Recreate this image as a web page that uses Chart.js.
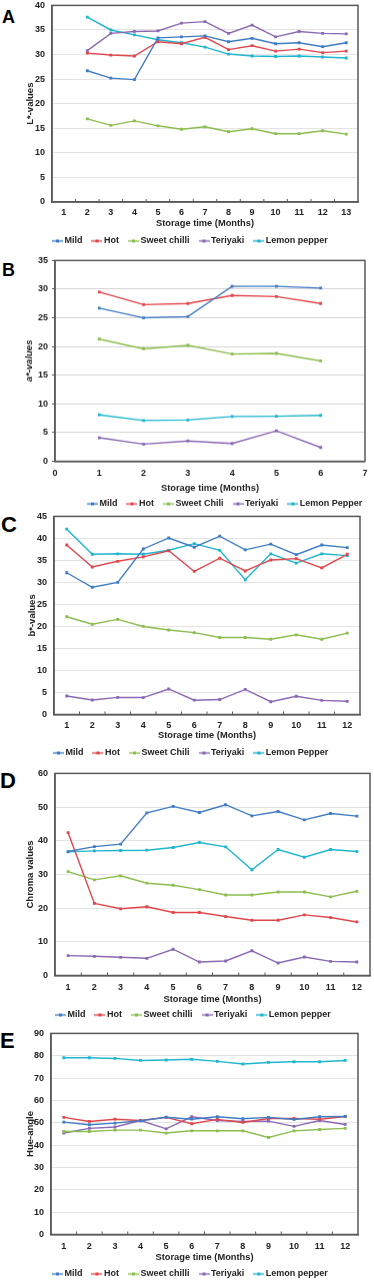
<!DOCTYPE html>
<html>
<head>
<meta charset="utf-8">
<script src="https://cdn.jsdelivr.net/npm/chart.js@4.4.0/dist/chart.umd.min.js"></script>
<style>
  html, body { margin: 0; padding: 0; background: #fff; width: 374px; height: 1282px; overflow: hidden; position: relative; }
  .panel { position: absolute; left: 0; width: 374px; }
  .letter { position: absolute; left: 2px; font-family: "Liberation Sans", Arial, sans-serif; font-weight: bold; color: #000; }
</style>
</head>
<body>
<div class="letter" style="top:8px;font-size:18px;line-height:18px">A</div>
<div class="letter" style="top:261px;font-size:18px;line-height:18px">B</div>
<div class="letter" style="top:514px;font-size:22px;line-height:22px;left:1px">C</div>
<div class="letter" style="top:770px;font-size:22px;line-height:22px;left:0px">D</div>
<div class="letter" style="top:1030px;font-size:22px;line-height:22px;left:0px">E</div>

<div class="panel" id="pA"><canvas id="cA"></canvas></div>
<div class="panel" id="pB"><canvas id="cB"></canvas></div>
<div class="panel" id="pC"><canvas id="cC"></canvas></div>
<div class="panel" id="pD"><canvas id="cD"></canvas></div>
<div class="panel" id="pE"><canvas id="cE"></canvas></div>

<script>
// ---------- Data ----------
const seriesNames = ['Mild', 'Hot', 'Sweet chilli', 'Teriyaki', 'Lemon pepper'];
const seriesNamesB = ['Mild', 'Hot', 'Sweet Chili', 'Teriyaki', 'Lemon Pepper'];
const seriesNamesC = ['Mild', 'Hot', 'Sweet Chili', 'Teriyaki', 'Lemon Pepper'];

// Panel A: L*-values, months 1..13 (data from month 2)
const monthsA = ['1','2','3','4','5','6','7','8','9','10','11','12','13'];
const lMild   = [null, 26.7, 25.2, 24.9, 33.4, 33.6, 33.8, 32.6, 33.3, 32.2, 32.4, 31.6, 32.4];
const lHot    = [null, 30.3, 29.9, 29.7, 32.6, 32.2, 33.5, 31.0, 31.8, 30.7, 31.1, 30.4, 30.7];
const lSweet  = [null, 16.9, 15.6, 16.5, 15.5, 14.8, 15.3, 14.3, 14.9, 13.9, 13.9, 14.5, 13.8];
const lTeri   = [null, 30.8, 34.3, 34.7, 34.8, 36.4, 36.7, 34.3, 36.0, 33.6, 34.7, 34.3, 34.2];
const lLemon  = [null, 37.6, 35.0, 34.0, 33.0, 32.4, 31.5, 30.1, 29.7, 29.6, 29.7, 29.5, 29.3];

// Panel B: a*-values, months 1..6 (linear axis 0..7)
const monthsB = [1, 2, 3, 4, 5, 6];
const aMild   = [26.7, 25.0, 25.2, 30.5, 30.5, 30.2];
const aHot    = [29.5, 27.3, 27.5, 28.9, 28.7, 27.5];
const aSweet  = [21.3, 19.6, 20.2, 18.7, 18.8, 17.5];
const aTeri   = [4.1, 3.0, 3.55, 3.1, 5.3, 2.4];
const aLemon  = [8.1, 7.1, 7.2, 7.8, 7.85, 8.0];

// Panel C: b*-values, months 1..12
const months12 = ['1','2','3','4','5','6','7','8','9','10','11','12'];
const bMild   = [32.2, 28.9, 30.0, 37.6, 40.1, 38.0, 40.5, 37.4, 38.7, 36.3, 38.5, 37.9];
const bHot    = [38.5, 33.5, 34.8, 35.8, 37.2, 32.5, 35.5, 32.6, 35.1, 35.4, 33.3, 36.4];
const bSweet  = [22.2, 20.5, 21.6, 20.0, 19.2, 18.6, 17.5, 17.5, 17.1, 18.1, 17.1, 18.5];
const bTeri   = [4.2, 3.3, 3.9, 3.85, 5.8, 3.25, 3.4, 5.7, 2.9, 4.15, 3.2, 3.0];
const bLemon  = [42.1, 36.4, 36.5, 36.4, 37.3, 38.8, 37.3, 30.6, 36.5, 34.4, 36.5, 36.1];

// Panel D: Chroma values
const cMild   = [36.8, 38.25, 39.0, 48.3, 50.2, 48.4, 50.7, 47.4, 48.7, 46.2, 48.1, 47.3];
const cHot    = [42.4, 21.4, 19.8, 20.4, 18.7, 18.7, 17.5, 16.4, 16.4, 18.0, 17.2, 15.9];
const cSweet  = [30.85, 28.4, 29.6, 27.4, 26.8, 25.5, 23.9, 23.9, 24.8, 24.8, 23.35, 25.0];
const cTeri   = [5.9, 5.7, 5.4, 5.1, 7.8, 4.0, 4.3, 7.35, 3.7, 5.5, 4.2, 4.0];
const cLemon  = [36.7, 37.0, 37.1, 37.2, 38.0, 39.5, 38.2, 31.4, 37.4, 35.1, 37.4, 36.8];

// Panel E: Hue-angle
const hMild   = [50.3, 49.1, 49.85, 50.9, 52.5, 51.6, 52.7, 51.8, 52.4, 51.5, 52.7, 52.8];
const hHot    = [52.4, 50.6, 51.6, 51.0, 52.4, 49.55, 51.5, 50.15, 51.9, 51.9, 51.6, 52.8];
const hSweet  = [46.1, 46.1, 46.7, 46.7, 45.4, 46.4, 46.4, 46.4, 43.4, 46.4, 47.0, 47.5];
const hTeri   = [45.4, 47.5, 48.1, 51.0, 47.3, 52.7, 51.0, 50.6, 50.75, 48.4, 51.0, 49.25];
const hLemon  = [79.1, 79.1, 78.8, 77.9, 78.1, 78.4, 77.5, 76.3, 77.0, 77.3, 77.3, 77.9];

// ---------- Styling ----------
const colors = ['#3f7cc4', '#e0474c', '#8cbd4f', '#8b68b3', '#1fb5cd'];
const FONT = '"Liberation Sans", Arial, sans-serif';
const frameColor = '#595959';
const LEG_PAD = 12;

// legend marker: short line with a small square dot
const legendMarkers = colors.map(c => {
  const cv = document.createElement('canvas');
  cv.width = 11; cv.height = 5;
  const g = cv.getContext('2d');
  g.strokeStyle = c; g.lineWidth = 1.4;
  g.beginPath(); g.moveTo(0, 2.5); g.lineTo(11, 2.5); g.stroke();
  g.fillStyle = c; g.fillRect(4, 1, 3, 3);
  return cv;
});

const framePlugin = {
  id: 'frame',
  afterLayout(chart, args, opts) {
    const lg = chart.legend;
    if (lg && opts.legendLeft !== undefined) {
      const h = lg.bottom - lg.top;
      lg.left = opts.legendLeft;
      lg.right = opts.legendLeft + 600;
      lg.top = opts.legendTop;
      lg.bottom = opts.legendTop + h;
    }
  },
  afterDraw(chart, args, opts) {
    const {ctx, chartArea: a} = chart;
    ctx.save();
    ctx.strokeStyle = frameColor;
    ctx.lineWidth = 1.5;
    ctx.strokeRect(a.left, a.top, a.right - a.left, a.bottom - a.top);
    if (opts.innerTicks) {
      const xs = chart.scales.x;
      const n = xs.ticks.length;
      ctx.lineWidth = 1;
      ctx.beginPath();
      for (let i = 1; i < n; i++) {
        const x = (xs.getPixelForTick(i - 1) + xs.getPixelForTick(i)) / 2;
        ctx.moveTo(x, a.bottom);
        ctx.lineTo(x, a.bottom - 3);
      }
      ctx.stroke();
    }
    ctx.restore();
  }
};

function legendLabels(chart) {
  const items = Chart.defaults.plugins.legend.labels.generateLabels(chart);
  return items.map((it, i) => Object.assign(it, {
    strokeStyle: colors[i], fillStyle: colors[i], lineWidth: 1.4, pointStyle: legendMarkers[i]
  }));
}

function makeDatasets(names, arrays, xs) {
  return names.map((n, i) => ({
    label: n,
    data: xs ? arrays[i].map((v, j) => ({x: xs[j], y: v})) : arrays[i],
    borderColor: colors[i],
    backgroundColor: colors[i],
    borderWidth: 1.4,
    pointStyle: 'rect',
    pointRadius: 2,
    pointBorderWidth: 0,
    tension: 0,
    spanGaps: false
  }));
}

function makeChart(cfg) {
  const panel = document.getElementById(cfg.panel);
  panel.style.top = cfg.top + 'px';
  panel.style.height = cfg.height + 'px';
  const common = {
    color: '#222', font: {family: FONT, size: 9, weight: 'bold'}, padding: cfg.xTickPad
  };
  const xTitle = { display: true, text: 'Storage time (Months)', color: '#222', font: {family: FONT, size: 9.3, weight: 'bold'}, padding: {top: 0, bottom: 0} };
  const xScale = cfg.linear ? {
    type: 'linear', min: 0, max: 7,
    ticks: Object.assign({ stepSize: 1 }, common),
    grid: { display: false, drawTicks: false },
    border: { display: true, color: frameColor, width: 1.5 },
    title: xTitle,
    afterFit(s) { s.height = cfg.xAxisH; }
  } : {
    type: 'category', offset: true,
    ticks: Object.assign({ maxRotation: 0, autoSkip: false }, common),
    grid: { display: false, drawTicks: false, offset: true },
    border: { display: true, color: frameColor, width: 1.5 },
    title: xTitle,
    afterFit(s) { s.height = cfg.xAxisH; }
  };
  return new Chart(document.getElementById(cfg.canvas), {
    type: 'line',
    data: { labels: cfg.labels, datasets: makeDatasets(cfg.names, cfg.arrays, cfg.xs) },
    options: {
      responsive: true,
      maintainAspectRatio: false,
      animation: false,
      layout: { padding: { top: 0, right: cfg.rightPad, bottom: 0, left: 0 } },
      scales: {
        x: xScale,
        y: {
          min: 0, max: cfg.yMax,
          ticks: { stepSize: cfg.yStep, color: '#222', font: {family: FONT, size: 9, weight: 'bold'}, padding: cfg.yTickPad },
          grid: { color: cfg.gridColor || '#e4e4e4', lineWidth: 1, drawTicks: !!cfg.yTicks, tickLength: 3, tickColor: frameColor },
          border: { display: true, color: frameColor, width: 1.5 },
          title: { display: true, text: cfg.yTitle, color: '#222', font: {family: FONT, size: 9.5, weight: 'bold', style: cfg.yItalic ? 'italic' : 'normal'}, padding: {top: cfg.yTitlePad, bottom: 0} },
          afterFit(s) { s.width = cfg.yAxisW; }
        }
      },
      plugins: {
        legend: {
          position: 'bottom',
          align: 'start',
          labels: {
            color: '#222',
            font: {family: FONT, size: 9, weight: 'bold'},
            usePointStyle: true,
            pointStyleWidth: 5,
            boxHeight: 9,
            padding: LEG_PAD,
            generateLabels: legendLabels
          }
        },
        tooltip: { enabled: false },
        frame: {
          innerTicks: !cfg.linear,
          legendLeft: cfg.legendStart + 3 - LEG_PAD,
          legendTop: cfg.legendCenter - cfg.top - LEG_PAD - 4.5
        }
      }
    },
    plugins: [framePlugin]
  });
}

makeChart({
  panel: 'pA', canvas: 'cA', top: -7, height: 267,
  labels: monthsA, names: seriesNames, arrays: [lMild, lHot, lSweet, lTeri, lLemon],
  yMax: 40, yStep: 5, yTitle: 'L*-values', yItalic: false,
  yAxisW: 52, yTickPad: 7, yTitlePad: 24.5, rightPad: 16,
  xAxisH: 27, xTickPad: 5, legendStart: 52, legendCenter: 241
});

makeChart({
  panel: 'pB', canvas: 'cB', top: 251, height: 273.5,
  linear: true, xs: monthsB, labels: [], names: seriesNamesB, arrays: [aMild, aHot, aSweet, aTeri, aLemon],
  yMax: 35, yStep: 5, yTitle: 'a*-values', yItalic: true, gridColor: '#d4d4d4', yTicks: true,
  yAxisW: 55, yTickPad: 4, yTitlePad: 23.5, rightPad: 5,
  xAxisH: 33, xTickPad: 6.5, legendStart: 87, legendCenter: 503
});

makeChart({
  panel: 'pC', canvas: 'cC', top: 504, height: 268,
  labels: months12, names: seriesNamesC, arrays: [bMild, bHot, bSweet, bTeri, bLemon],
  yMax: 45, yStep: 5, yTitle: 'b*-values', yItalic: false,
  yAxisW: 54, yTickPad: 7, yTitlePad: 26.5, rightPad: 14,
  xAxisH: 26.5, xTickPad: 5.5, legendStart: 53, legendCenter: 753
});

makeChart({
  panel: 'pD', canvas: 'cD', top: 761, height: 275,
  labels: months12, names: seriesNames, arrays: [cMild, cHot, cSweet, cTeri, cLemon],
  yMax: 60, yStep: 10, yTitle: 'Chroma values', yItalic: false,
  yAxisW: 55, yTickPad: 7, yTitlePad: 24.5, rightPad: 4,
  xAxisH: 29.5, xTickPad: 6.5, legendStart: 55, legendCenter: 1015
});

makeChart({
  panel: 'pE', canvas: 'cE', top: 1021, height: 273,
  labels: months12, names: seriesNames, arrays: [hMild, hHot, hSweet, hTeri, hLemon],
  yMax: 90, yStep: 10, yTitle: 'Hue-angle', yItalic: false,
  yAxisW: 51, yTickPad: 7, yTitlePad: 24.5, rightPad: 16,
  xAxisH: 28.5, xTickPad: 6.5, legendStart: 52, legendCenter: 1274
});
</script>
</body>
</html>
